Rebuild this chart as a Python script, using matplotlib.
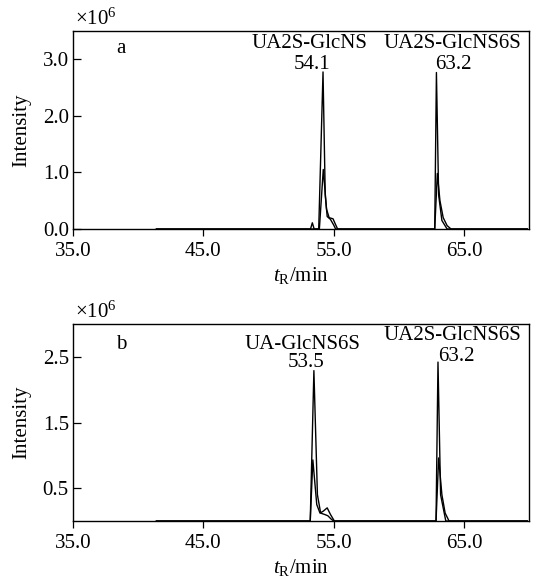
import matplotlib.pyplot as plt

plt.rcParams['font.family'] = 'Liberation Serif'
plt.rcParams['mathtext.fontset'] = 'custom'
plt.rcParams['mathtext.rm'] = 'Liberation Serif'
plt.rcParams['mathtext.it'] = 'Liberation Serif:italic'
plt.rcParams['font.size'] = 15

# panel a: two overlaid chromatogram traces (intensity in 1e6)
a_t1 = [41.4, 53.85, 54.18, 54.35, 54.5, 54.75, 55.0, 55.15, 62.75, 62.88, 63.05, 63.3, 63.7, 69.85]
a_i1 = [0, 0, 2.77, 0.6, 0.22, 0.17, 0.07, 0, 0, 2.76, 0.6, 0.15, 0, 0]
a_t2 = [41.4, 53.22, 53.36, 53.5, 53.9, 54.2, 54.45, 54.65, 54.95, 55.1, 55.3,
        62.75, 62.95, 63.15, 63.4, 63.7, 64.0, 69.85]
a_i2 = [0, 0, 0.11, 0, 0, 1.05, 0.35, 0.2, 0.18, 0.1, 0,
        0, 0.98, 0.5, 0.2, 0.06, 0, 0]

# panel b
b_t1 = [41.4, 53.2, 53.48, 53.75, 54.0, 54.3, 54.55, 54.8, 55.0, 62.85, 63.0, 63.2, 63.6, 69.85]
b_i1 = [0, 0, 2.29, 0.4, 0.12, 0.1, 0.08, 0.03, 0, 0, 2.42, 0.4, 0, 0]
b_t2 = [41.4, 53.2, 53.4, 53.7, 53.95, 54.2, 54.5, 54.75, 55.05,
        62.85, 63.05, 63.3, 63.55, 63.85, 69.85]
b_i2 = [0, 0, 0.93, 0.25, 0.12, 0.15, 0.2, 0.1, 0,
        0, 0.96, 0.4, 0.12, 0, 0]

xticks = [35, 45, 55, 65]
a_yticks = [0, 1, 2, 3]
b_yticks = [0.5, 1.5, 2.5]

fig = plt.figure(figsize=(5.38, 5.82), dpi=100)
ax1 = fig.add_axes([0.1357, 0.6065, 0.848, 0.341])
ax2 = fig.add_axes([0.1357, 0.1048, 0.848, 0.3385])

panels = [
    (ax1, a_t1, a_i1, a_t2, a_i2, a_yticks, 3.5, 'a',
     [('UA2S-GlcNS', 53.1, 3.27), ('54.1', 53.3, 2.91),
      ('UA2S-GlcNS6S', 64.1, 3.27), ('63.2', 64.15, 2.91)], 3.18),
    (ax2, b_t1, b_i1, b_t2, b_i2, b_yticks, 3.0, 'b',
     [('UA-GlcNS6S', 52.6, 2.69), ('53.5', 52.9, 2.41),
      ('UA2S-GlcNS6S', 64.1, 2.83), ('63.2', 64.4, 2.51)], 2.69),
]

for ax, t1, i1, t2, i2, yt, ytop, tag, labels, tag_y in panels:
    ax.plot(t1, i1, color='black', lw=1.0, clip_on=False)
    ax.plot(t2, i2, color='black', lw=1.0, clip_on=False)
    ax.set_xlim(35, 70)
    ax.set_ylim(0, ytop)
    ax.set_xticks(xticks)
    ax.set_xticklabels(['%.1f' % v for v in xticks])
    ax.set_yticks(yt)
    ax.set_yticklabels(['%.1f' % v for v in yt])
    ax.tick_params(axis='y', direction='in', length=5.5, width=0.9, pad=3)
    ax.tick_params(axis='x', direction='out', length=5, width=0.9, pad=4)
    for s in ax.spines.values():
        s.set_linewidth(1.0)
    ax.set_xlabel(r'$\mathit{t}_\mathrm{R}$/min', labelpad=3)
    ax.set_ylabel('Intensity', labelpad=8)
    ax.text(38.7, tag_y, tag, ha='center', va='center')
    for txt, x, y in labels:
        ax.text(x, y, txt, ha='center', va='center')
    ax.text(0.005, 1.005, r'$\times\mathregular{10^6}$', transform=ax.transAxes,
            ha='left', va='bottom')

fig.savefig('out.png', dpi=100)
